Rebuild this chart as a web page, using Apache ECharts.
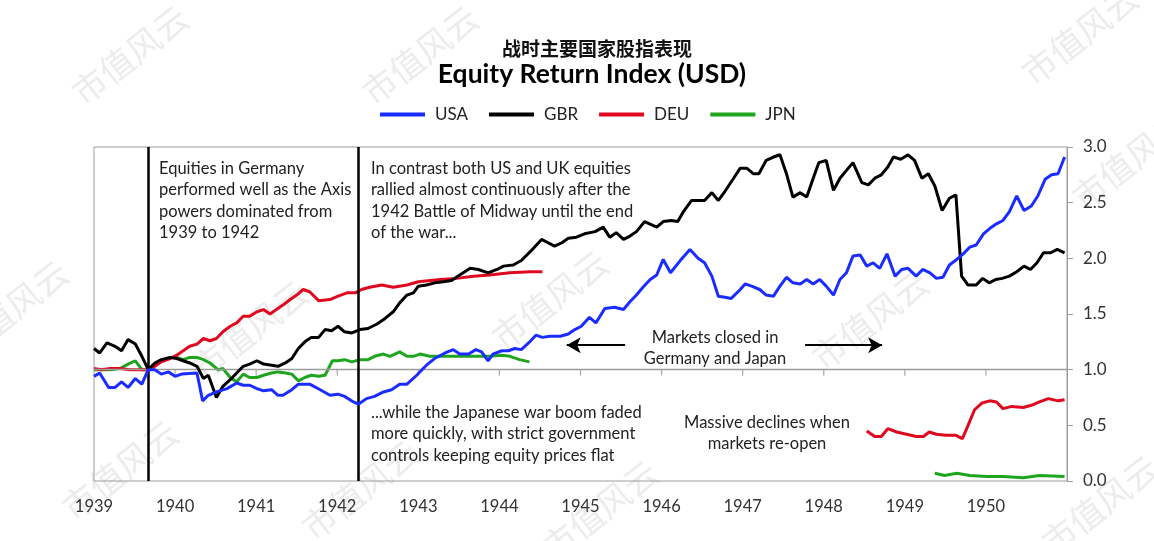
<!DOCTYPE html>
<html>
<head>
<meta charset="utf-8">
<script src="https://cdn.jsdelivr.net/npm/echarts@6/dist/echarts.min.js"></script>
<style>
  html, body { margin: 0; padding: 0; background: #fff; }
  #main { width: 1154px; height: 541px; }
</style>
</head>
<body>
<div id="main"></div>
<script>
// 数据：[年份, 指数]
const usa = [[1939.00,0.94],[1939.07,0.97],[1939.18,0.84],[1939.26,0.84],[1939.34,0.89],[1939.42,0.84],[1939.51,0.92],[1939.59,0.87],[1939.67,1.00],[1939.75,1.00],[1939.83,0.96],[1939.92,0.98],[1940.00,0.94],[1940.08,0.96],[1940.27,0.97],[1940.34,0.72],[1940.41,0.77],[1940.51,0.80],[1940.64,0.83],[1940.76,0.88],[1940.84,0.86],[1940.92,0.86],[1941.01,0.83],[1941.09,0.81],[1941.19,0.82],[1941.27,0.77],[1941.33,0.77],[1941.44,0.82],[1941.52,0.87],[1941.66,0.87],[1941.79,0.82],[1941.91,0.77],[1942.01,0.78],[1942.09,0.76],[1942.20,0.71],[1942.26,0.69],[1942.36,0.74],[1942.46,0.76],[1942.57,0.80],[1942.67,0.82],[1942.77,0.87],[1942.86,0.87],[1942.98,0.95],[1943.10,1.04],[1943.20,1.10],[1943.33,1.15],[1943.43,1.18],[1943.51,1.14],[1943.62,1.14],[1943.71,1.18],[1943.78,1.16],[1943.86,1.08],[1943.92,1.14],[1944.03,1.17],[1944.11,1.17],[1944.19,1.19],[1944.27,1.18],[1944.36,1.24],[1944.45,1.31],[1944.53,1.29],[1944.62,1.30],[1944.75,1.30],[1944.85,1.32],[1944.93,1.36],[1945.01,1.39],[1945.11,1.47],[1945.19,1.42],[1945.30,1.55],[1945.42,1.56],[1945.53,1.54],[1945.61,1.61],[1945.69,1.67],[1945.77,1.74],[1945.86,1.81],[1945.94,1.85],[1946.02,1.99],[1946.11,1.87],[1946.23,1.98],[1946.35,2.08],[1946.45,2.00],[1946.53,1.96],[1946.62,1.84],[1946.70,1.66],[1946.78,1.65],[1946.86,1.64],[1946.97,1.72],[1947.03,1.77],[1947.11,1.75],[1947.21,1.72],[1947.29,1.67],[1947.38,1.66],[1947.46,1.75],[1947.54,1.83],[1947.62,1.78],[1947.71,1.77],[1947.79,1.81],[1947.87,1.77],[1947.95,1.81],[1948.03,1.75],[1948.12,1.67],[1948.20,1.81],[1948.28,1.87],[1948.36,2.02],[1948.45,2.03],[1948.53,1.93],[1948.61,1.96],[1948.69,1.91],[1948.78,2.04],[1948.88,1.84],[1948.96,1.90],[1949.04,1.91],[1949.14,1.84],[1949.22,1.90],[1949.31,1.87],[1949.39,1.82],[1949.47,1.83],[1949.55,1.94],[1949.64,1.99],[1949.72,2.04],[1949.80,2.10],[1949.88,2.12],[1949.97,2.22],[1950.05,2.27],[1950.13,2.31],[1950.21,2.34],[1950.29,2.42],[1950.38,2.56],[1950.47,2.43],[1950.56,2.47],[1950.64,2.56],[1950.73,2.71],[1950.81,2.75],[1950.89,2.76],[1950.97,2.91]];

const gbr = [[1939.00,1.19],[1939.07,1.15],[1939.16,1.24],[1939.26,1.21],[1939.34,1.17],[1939.42,1.27],[1939.51,1.23],[1939.59,1.12],[1939.67,1.00],[1939.75,1.06],[1939.83,1.09],[1939.94,1.11],[1940.02,1.10],[1940.10,1.08],[1940.18,1.06],[1940.27,1.03],[1940.35,0.92],[1940.41,0.95],[1940.51,0.75],[1940.59,0.85],[1940.68,0.91],[1940.76,0.97],[1940.84,1.03],[1940.92,1.05],[1941.01,1.08],[1941.09,1.05],[1941.19,1.04],[1941.27,1.03],[1941.36,1.06],[1941.44,1.10],[1941.52,1.19],[1941.60,1.25],[1941.68,1.29],[1941.77,1.29],[1941.85,1.36],[1941.93,1.35],[1942.01,1.39],[1942.09,1.34],[1942.18,1.33],[1942.28,1.36],[1942.38,1.37],[1942.49,1.41],[1942.59,1.46],[1942.69,1.52],[1942.77,1.60],[1942.86,1.67],[1942.94,1.69],[1943.00,1.75],[1943.10,1.76],[1943.20,1.78],[1943.31,1.79],[1943.41,1.80],[1943.51,1.85],[1943.64,1.91],[1943.74,1.90],[1943.86,1.87],[1943.97,1.90],[1944.05,1.93],[1944.17,1.94],[1944.27,1.98],[1944.38,2.06],[1944.52,2.17],[1944.60,2.14],[1944.68,2.11],[1944.77,2.14],[1944.85,2.18],[1944.95,2.19],[1945.05,2.22],[1945.18,2.24],[1945.28,2.28],[1945.36,2.19],[1945.44,2.23],[1945.53,2.17],[1945.61,2.20],[1945.69,2.24],[1945.79,2.33],[1945.94,2.28],[1946.02,2.33],[1946.12,2.34],[1946.20,2.33],[1946.27,2.42],[1946.37,2.52],[1946.53,2.52],[1946.62,2.59],[1946.70,2.52],[1946.78,2.60],[1946.88,2.71],[1946.97,2.81],[1947.05,2.81],[1947.13,2.76],[1947.20,2.76],[1947.29,2.88],[1947.38,2.91],[1947.46,2.93],[1947.54,2.76],[1947.62,2.55],[1947.71,2.59],[1947.79,2.55],[1947.87,2.72],[1947.94,2.86],[1948.03,2.88],[1948.12,2.61],[1948.20,2.72],[1948.28,2.79],[1948.36,2.86],[1948.47,2.68],[1948.55,2.66],[1948.63,2.72],[1948.71,2.75],[1948.79,2.82],[1948.86,2.91],[1948.95,2.89],[1949.04,2.93],[1949.12,2.88],[1949.21,2.72],[1949.29,2.76],[1949.37,2.65],[1949.46,2.43],[1949.55,2.54],[1949.63,2.57],[1949.70,1.84],[1949.78,1.76],[1949.88,1.76],[1949.96,1.82],[1950.04,1.78],[1950.12,1.81],[1950.20,1.82],[1950.29,1.84],[1950.38,1.88],[1950.47,1.93],[1950.55,1.90],[1950.63,1.96],[1950.71,2.05],[1950.80,2.05],[1950.88,2.08],[1950.97,2.05]];

// 德国：战时 + 重开后
const deuWar = [[1939.00,1.01],[1939.09,1.00],[1939.20,1.01],[1939.32,1.01],[1939.44,1.00],[1939.57,1.00],[1939.67,1.00],[1939.75,1.03],[1939.83,1.07],[1939.94,1.10],[1940.02,1.13],[1940.10,1.17],[1940.18,1.21],[1940.27,1.23],[1940.35,1.28],[1940.43,1.26],[1940.51,1.28],[1940.59,1.34],[1940.68,1.39],[1940.76,1.42],[1940.84,1.48],[1940.92,1.48],[1941.01,1.52],[1941.09,1.54],[1941.17,1.50],[1941.25,1.54],[1941.33,1.58],[1941.42,1.63],[1941.50,1.67],[1941.58,1.72],[1941.66,1.70],[1941.77,1.62],[1941.91,1.63],[1942.01,1.66],[1942.12,1.69],[1942.22,1.69],[1942.30,1.72],[1942.40,1.74],[1942.55,1.76],[1942.69,1.74],[1942.86,1.76],[1943.00,1.79],[1943.27,1.81],[1943.47,1.82],[1943.68,1.84],[1943.88,1.85],[1944.13,1.87],[1944.38,1.88],[1944.53,1.88]];
const deuPost = [[1948.53,0.45],[1948.63,0.40],[1948.71,0.40],[1948.79,0.47],[1948.90,0.44],[1949.02,0.42],[1949.14,0.40],[1949.23,0.40],[1949.30,0.44],[1949.39,0.42],[1949.51,0.41],[1949.63,0.41],[1949.71,0.38],[1949.78,0.50],[1949.86,0.64],[1949.95,0.70],[1950.05,0.72],[1950.13,0.71],[1950.21,0.65],[1950.32,0.67],[1950.46,0.66],[1950.56,0.68],[1950.66,0.71],[1950.77,0.74],[1950.89,0.72],[1950.97,0.73]];

// 日本：战时 + 重开后
const jpnWar = [[1939.00,1.00],[1939.09,1.00],[1939.20,1.00],[1939.32,1.01],[1939.42,1.05],[1939.51,1.08],[1939.59,1.00],[1939.67,1.00],[1939.75,1.04],[1939.83,1.08],[1939.94,1.11],[1940.02,1.11],[1940.10,1.09],[1940.18,1.11],[1940.27,1.11],[1940.35,1.09],[1940.43,1.06],[1940.53,1.00],[1940.59,1.01],[1940.68,0.93],[1940.76,0.89],[1940.84,0.96],[1940.92,0.93],[1941.01,0.93],[1941.09,0.95],[1941.19,0.97],[1941.27,0.98],[1941.36,0.97],[1941.44,0.96],[1941.52,0.90],[1941.60,0.93],[1941.68,0.95],[1941.77,0.94],[1941.85,0.95],[1941.94,1.08],[1942.01,1.08],[1942.09,1.09],[1942.18,1.07],[1942.28,1.09],[1942.38,1.09],[1942.46,1.12],[1942.57,1.14],[1942.65,1.12],[1942.77,1.16],[1942.86,1.12],[1942.94,1.12],[1943.02,1.14],[1943.14,1.12],[1943.35,1.12],[1943.55,1.12],[1943.76,1.12],[1943.88,1.12],[1944.03,1.13],[1944.13,1.12],[1944.25,1.09],[1944.37,1.07]];
const jpnPost = [[1949.37,0.07],[1949.49,0.05],[1949.64,0.07],[1949.80,0.05],[1950.01,0.04],[1950.21,0.04],[1950.46,0.03],[1950.66,0.05],[1950.97,0.04]];

// 事件竖线（开战、中途岛）
const eventYears = [1939.67, 1942.26];
// "Markets closed" 箭头
const arrowLeft = [[1945.55, 1.22], [1944.83, 1.22]];
const arrowRight = [[1947.77, 1.22], [1948.72, 1.22]];

const yearMin = 1939, yearMax = 1951;
const baseLevel = 1.0;
// 1.0 基准线上的年份刻度
const tickYears = [1940, 1941, 1942, 1943, 1944, 1945, 1946, 1947, 1948, 1949, 1950];

const FONT = 'Lato';
const AXIS_GRAY = '#9c9c9c';
const myChart = echarts.init(document.getElementById('main'));

// 水印
const marks = [[130, 55], [420, 55], [1080, 35], [1130, 160], [10, 310], [250, 330], [550, 300], [870, 320], [120, 470], [360, 490], [600, 510], [1100, 505]];
const watermark = marks.map(p => ({
  type: 'text', x: p[0], y: p[1], rotation: 0.66, z: -1,
  style: { text: '市值风云', fill: '#ececec', font: '34px "Noto Sans CJK SC"', align: 'center', verticalAlign: 'middle' }
}));

function note(x, y, lines, align) {
  return {
    type: 'text', x: x, y: y, z: 10,
    style: { text: lines.join('\n'), fill: '#222', font: '16.5px ' + FONT, lineHeight: 21.3, align: align || 'left', verticalAlign: 'top' }
  };
}

myChart.setOption({
  animation: false,
  title: [
    { text: '战时主要国家股指表现', left: 592, textAlign: 'center', top: 34, textStyle: { fontFamily: 'Noto Sans CJK SC', fontSize: 19, fontWeight: 'bold', color: '#111' } },
    { text: 'Equity Return Index (USD)', left: 587, textAlign: 'center', top: 56, textStyle: { fontFamily: FONT, fontSize: 26.5, fontWeight: 'bold', color: '#000' } }
  ],
  legend: {
    left: 380, top: 106, padding: 0, icon: 'rect', itemWidth: 45, itemHeight: 4, itemGap: 21,
    textStyle: { fontFamily: FONT, fontSize: 17, color: '#222', padding: [0, 0, 0, 5] },
    data: ['USA', 'GBR', 'DEU', 'JPN']
  },
  grid: { left: 94, right: 87, top: 147, bottom: 60, show: true, borderColor: AXIS_GRAY, borderWidth: 1 },
  xAxis: {
    type: 'value', min: yearMin, max: yearMax, interval: 1,
    axisLine: { show: false }, axisTick: { show: false }, splitLine: { show: false },
    axisLabel: { margin: 17, fontFamily: FONT, fontSize: 16.5, color: '#333', formatter: v => v === yearMax ? '' : String(v) }
  },
  yAxis: {
    type: 'value', position: 'right', min: 0, max: 3, interval: 0.5,
    axisLine: { show: true, lineStyle: { color: AXIS_GRAY } },
    axisTick: { show: true, length: 6, lineStyle: { color: AXIS_GRAY } },
    splitLine: { show: false },
    axisLabel: { margin: 16, fontFamily: FONT, fontSize: 17, color: '#333', formatter: v => v.toFixed(1) }
  },
  graphic: watermark.concat([
    note(159, 158, ['Equities in Germany', 'performed well as the Axis', 'powers dominated from', '1939 to 1942']),
    note(371, 158, ['In contrast both US and UK equities', 'rallied almost continuously after the', '1942 Battle of Midway until the end', 'of the war...']),
    note(715, 327, ['Markets closed in', 'Germany and Japan'], 'center'),
    note(371, 402, ['...while the Japanese war boom faded', 'more quickly, with strict government', 'controls keeping equity prices flat']),
    note(767, 412, ['Massive declines when', 'markets re-open'], 'center')
  ]),
  series: [
    // 1.0 基准线的小刻度
    {
      type: 'scatter', silent: true, z: 1, data: tickYears.map(y => [y, baseLevel]),
      symbol: 'rect', symbolSize: [1.3, 6], symbolOffset: [0, 3], itemStyle: { color: AXIS_GRAY }
    },
    {
      type: 'line', data: [], silent: true, z: 1,
      markLine: {
        silent: true, symbol: 'none', label: { show: false }, animation: false,
        data: [ { yAxis: baseLevel, lineStyle: { color: AXIS_GRAY, width: 1.3, type: 'solid' } } ]
      }
    },
    { name: 'JPN', type: 'line', data: jpnWar.concat([[1946.5, null]], jpnPost), showSymbol: false, symbol: 'none', color: '#1ea51e', lineStyle: { width: 3 }, z: 3 },
    { name: 'DEU', type: 'line', data: deuWar.concat([[1946.5, null]], deuPost), showSymbol: false, symbol: 'none', color: '#e0081e', lineStyle: { width: 3 }, z: 4 },
    { name: 'GBR', type: 'line', data: gbr, showSymbol: false, symbol: 'none', color: '#000000', lineStyle: { width: 3 }, z: 5 },
    { name: 'USA', type: 'line', data: usa, showSymbol: false, symbol: 'none', color: '#1a2cff', lineStyle: { width: 3 }, z: 6 },
    {
      type: 'line', data: [], silent: true, z: 7,
      markLine: {
        silent: true, symbol: 'none', label: { show: false }, animation: false,
        lineStyle: { color: '#000', width: 2.5, type: 'solid' },
        data: eventYears.map(v => ({ xAxis: v })).concat([
          [{ coord: arrowLeft[0], symbol: 'none' }, { coord: arrowLeft[1], symbol: 'arrow', symbolSize: [12, 14], lineStyle: { width: 2 } }],
          [{ coord: arrowRight[0], symbol: 'none' }, { coord: arrowRight[1], symbol: 'arrow', symbolSize: [12, 14], lineStyle: { width: 2 } }]
        ])
      }
    }
  ]
});
</script>
</body>
</html>
